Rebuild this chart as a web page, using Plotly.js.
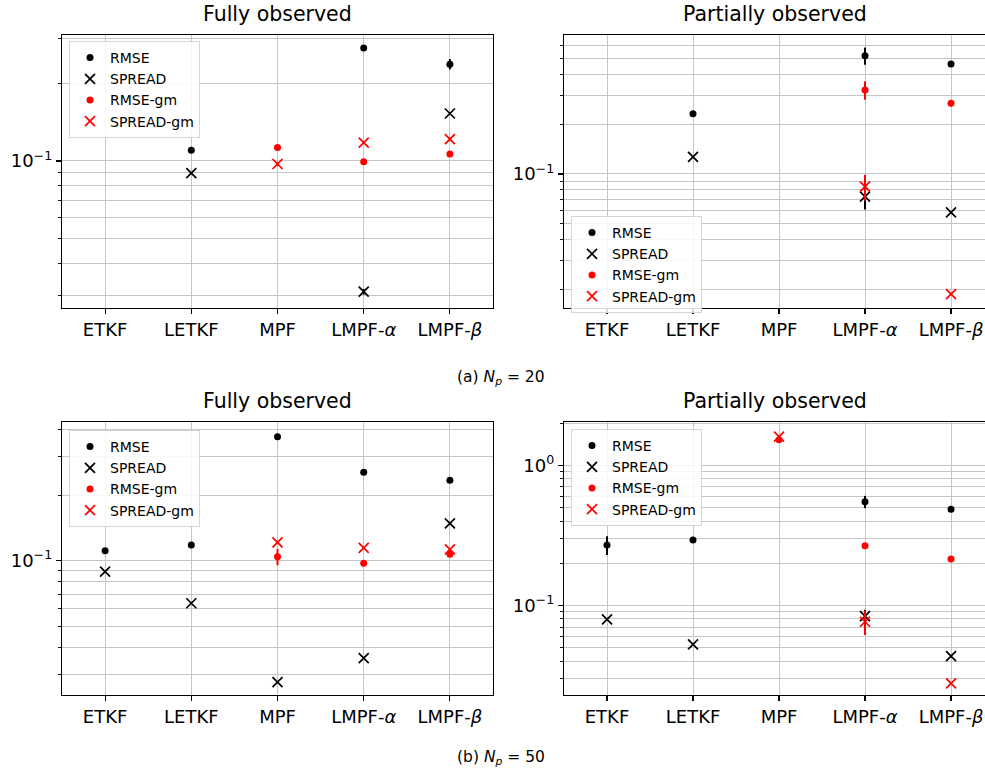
<!DOCTYPE html>
<html>
<head>
<meta charset="utf-8">
<script src="https://cdn.plot.ly/plotly-3.0.1.min.js"></script>
<style>
html, body { margin: 0; padding: 0; background: #fff; overflow: hidden; }
#chart { width: 985px; height: 771px; }
</style>
</head>
<body>
<div id="chart"></div>
<script>
// ---------------- data ----------------
const categories = ['ETKF', 'LETKF', 'MPF', 'LMPF-α', 'LMPF-β'];
const tickLabels = ['ETKF', 'LETKF', 'MPF', 'LMPF-<i>α</i>', 'LMPF-<i>β</i>'];
const seriesNames = ['RMSE', 'SPREAD', 'RMSE-gm', 'SPREAD-gm'];
const panelTitles = ['Fully observed', 'Partially observed', 'Fully observed', 'Partially observed'];
const captions = ['(a) <i>N<sub>p</sub></i> = 20', '(b) <i>N<sub>p</sub></i> = 50'];

// (a) Np = 20, fully observed
const a_full_rmse        = [null, 0.110, null, 0.275, 0.238];
const a_full_rmse_err    = [0, 0.002, 0, 0.004, 0.011];
const a_full_spread      = [null, 0.0896, null, 0.0310, 0.153];
const a_full_spread_err  = [0, 0, 0, 0.0008, 0.002];
const a_full_rmsegm      = [null, null, 0.1127, 0.0994, 0.1065];
const a_full_rmsegm_err  = [0, 0, 0.002, 0.001, 0.002];
const a_full_spreadgm    = [null, null, 0.0973, 0.1178, 0.1215];
const a_full_spreadgm_err= [0, 0, 0.002, 0.001, 0.002];

// (a) Np = 20, partially observed
const a_part_rmse        = [null, 0.232, null, 0.521, 0.464];
const a_part_rmse_err    = [0, 0.004, 0, 0.062, 0.006];
const a_part_spread      = [null, 0.1268, null, 0.0729, 0.0586];
const a_part_spread_err  = [0, 0.001, 0, 0.012, 0.001];
const a_part_rmsegm      = [null, null, null, 0.323, 0.268];
const a_part_rmsegm_err  = [0, 0, 0, 0.041, 0.004];
const a_part_spreadgm    = [null, null, null, 0.0838, 0.0187];
const a_part_spreadgm_err= [0, 0, 0, 0.015, 0.0003];

// (b) Np = 50, fully observed
const b_full_rmse        = [0.1112, 0.1181, 0.372, 0.255, 0.2344];
const b_full_rmse_err    = [0.001, 0.001, 0.004, 0.003, 0.003];
const b_full_spread      = [0.0890, 0.0637, 0.0276, 0.0356, 0.1486];
const b_full_spread_err  = [0, 0, 0, 0, 0.001];
const b_full_rmsegm      = [null, null, 0.1043, 0.0973, 0.1070];
const b_full_rmsegm_err  = [0, 0, 0.009, 0.001, 0.002];
const b_full_spreadgm    = [null, null, 0.1215, 0.1144, 0.1128];
const b_full_spreadgm_err= [0, 0, 0.002, 0.001, 0.001];

// (b) Np = 50, partially observed
const b_part_rmse        = [0.270, 0.2927, null, 0.5495, 0.485];
const b_part_rmse_err    = [0.041, 0.005, 0, 0.055, 0.008];
const b_part_spread      = [0.0794, 0.0527, null, 0.0839, 0.0434];
const b_part_spread_err  = [0.001, 0, 0, 0.009, 0.001];
const b_part_rmsegm      = [null, null, 1.52, 0.2666, 0.214];
const b_part_rmsegm_err  = [0, 0, 0.05, 0.012, 0.003];
const b_part_spreadgm    = [null, null, 1.60, 0.0764, 0.0277];
const b_part_spreadgm_err= [0, 0, 0.02, 0.015, 0.0005];

const majorTickVals = [0.01, 0.1, 1];
const majorTickText = ['10<sup>−2</sup>', '10<sup>−1</sup>', '10<sup>0</sup>'];
const minorTickVals = [0.002,0.003,0.004,0.005,0.006,0.007,0.008,0.009,
                       0.02,0.03,0.04,0.05,0.06,0.07,0.08,0.09,
                       0.2,0.3,0.4,0.5,0.6,0.7,0.8,0.9,
                       2,3,4,5,6,7,8,9];

// ---------------- build ----------------
const FONT = 'DejaVu Sans, Liberation Sans, sans-serif';
const panels = [
  {series: [[a_full_rmse, a_full_rmse_err], [a_full_spread, a_full_spread_err], [a_full_rmsegm, a_full_rmsegm_err], [a_full_spreadgm, a_full_spreadgm_err]]},
  {series: [[a_part_rmse, a_part_rmse_err], [a_part_spread, a_part_spread_err], [a_part_rmsegm, a_part_rmsegm_err], [a_part_spreadgm, a_part_spreadgm_err]]},
  {series: [[b_full_rmse, b_full_rmse_err], [b_full_spread, b_full_spread_err], [b_full_rmsegm, b_full_rmsegm_err], [b_full_spreadgm, b_full_spreadgm_err]]},
  {series: [[b_part_rmse, b_part_rmse_err], [b_part_spread, b_part_spread_err], [b_part_rmsegm, b_part_rmsegm_err], [b_part_spreadgm, b_part_spreadgm_err]]}
];

const W = 985, H = 771;
// pixel boxes [left, right, top, bottom]
const boxes = [
  [62, 493, 35, 308],
  [564, 985, 35, 308],
  [62, 493, 422, 695],
  [564, 985, 422, 695]
];
const yRanges = [[-1.572, -0.510], [-1.812, -0.158], [-1.618, -0.362], [-1.64, 0.309]];
const xRanges = [[-0.5, 4.5], [-0.5, 4.395], [-0.5, 4.5], [-0.5, 4.395]];
const legendPos = [[69, 41], [571, 216], [69, 430], [571, 429]];

const styles = [
  {color: 'black', symbol: 'circle', size: 7},
  {color: 'black', symbol: 'x-thin', size: 10},
  {color: 'red', symbol: 'circle', size: 7},
  {color: 'red', symbol: 'x-thin', size: 10}
];

const traces = [];
const layout = {
  width: W, height: H,
  margin: {l: 0, r: 0, t: 0, b: 0},
  paper_bgcolor: 'white', plot_bgcolor: 'white',
  font: {family: FONT, color: 'black'},
  annotations: []
};

panels.forEach((p, i) => {
  const n = i + 1;
  const xa = n === 1 ? 'x' : 'x' + n;
  const ya = n === 1 ? 'y' : 'y' + n;
  const lg = n === 1 ? 'legend' : 'legend' + n;
  p.series.forEach((s, k) => {
    const st = styles[k];
    traces.push({
      type: 'scatter', mode: 'markers',
      x: categories, y: s[0],
      name: seriesNames[k],
      xaxis: xa, yaxis: ya, legend: lg,
      marker: {color: st.color, symbol: st.symbol, size: st.size,
               line: {color: st.color, width: st.symbol === 'x-thin' ? 1.7 : 0}},
      error_y: {type: 'data', array: s[1], visible: true, color: st.color, thickness: 2, width: 0},
      hoverinfo: 'x+y+name'
    });
  });
  const b = boxes[i];
  const xKey = n === 1 ? 'xaxis' : 'xaxis' + n;
  const yKey = n === 1 ? 'yaxis' : 'yaxis' + n;
  layout[xKey] = {
    domain: [b[0] / W, b[1] / W],
    anchor: ya,
    type: 'category',
    categoryorder: 'array', categoryarray: categories,
    tickmode: 'array', tickvals: categories, ticktext: tickLabels,
    range: xRanges[i],
    showline: true, mirror: true, linecolor: 'black', linewidth: 1.2,
    ticks: 'outside', ticklen: 5, tickwidth: 1.1, tickcolor: 'black',
    showgrid: true, gridcolor: '#c6c6c6', gridwidth: 1,
    zeroline: false,
    tickfont: {family: FONT, size: 18, color: 'black'}
  };
  layout[yKey] = {
    domain: [1 - b[3] / H, 1 - b[2] / H],
    anchor: xa,
    type: 'log',
    range: yRanges[i],
    tickmode: 'array', tickvals: majorTickVals, ticktext: majorTickText,
    showline: true, mirror: true, linecolor: 'black', linewidth: 1.2,
    ticks: 'outside', ticklen: 5, tickwidth: 1.1, tickcolor: 'black',
    showgrid: true, gridcolor: '#c6c6c6', gridwidth: 1,
    zeroline: false,
    tickfont: {family: FONT, size: 18, color: 'black'},
    minor: {tickmode: 'array', tickvals: minorTickVals, ticks: 'outside', ticklen: 3,
            tickwidth: 0.9, tickcolor: 'black', showgrid: true, gridcolor: '#c6c6c6', gridwidth: 1}
  };
  const lp = legendPos[i];
  layout[lg] = {
    x: lp[0] / W, y: 1 - lp[1] / H, xanchor: 'left', yanchor: 'top',
    xref: 'paper', yref: 'paper',
    bgcolor: 'rgba(255,255,255,0.85)', bordercolor: '#d6d6d6', borderwidth: 1,
    font: {family: FONT, size: 14, color: 'black'},
    tracegroupgap: 0
  };
  layout.annotations.push({
    text: panelTitles[i], xref: 'paper', yref: 'paper',
    x: ((b[0] + Math.min(b[1], b[0] + 430)) / 2) / W, y: 1 - (b[2] - 7) / H,
    xanchor: 'center', yanchor: 'bottom', showarrow: false,
    font: {family: FONT, size: 20.5, color: 'black'}
  });
});

layout.annotations.push({
  text: captions[0], xref: 'paper', yref: 'paper', x: 501 / W, y: 1 - 378 / H,
  xanchor: 'center', yanchor: 'middle', showarrow: false,
  font: {family: FONT, size: 15.5, color: 'black'}
});
layout.annotations.push({
  text: captions[1], xref: 'paper', yref: 'paper', x: 501 / W, y: 1 - 758 / H,
  xanchor: 'center', yanchor: 'middle', showarrow: false,
  font: {family: FONT, size: 15.5, color: 'black'}
});

Plotly.newPlot('chart', traces, layout, {displayModeBar: false, staticPlot: true});
</script>
</body>
</html>
